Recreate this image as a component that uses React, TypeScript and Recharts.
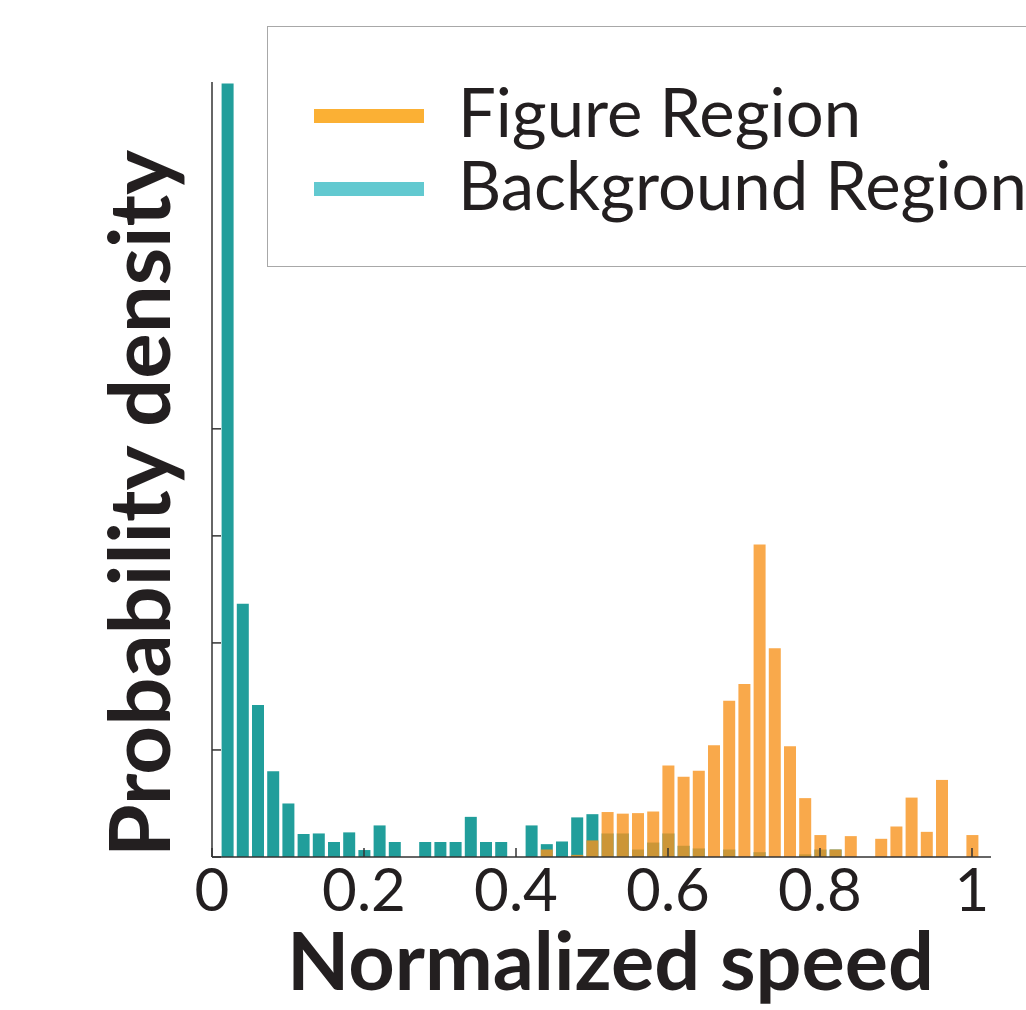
import React from "react";
import {
  ComposedChart,
  Bar,
  XAxis,
  YAxis,
  Legend,
} from "recharts";

// bin centres (width 0.02)
const binCenters = [
  0.02, 0.04, 0.06, 0.08, 0.1, 0.12, 0.14, 0.16, 0.18, 0.2,
  0.22, 0.24, 0.26, 0.28, 0.3, 0.32, 0.34, 0.36, 0.38, 0.4,
  0.42, 0.44, 0.46, 0.48, 0.5, 0.52, 0.54, 0.56, 0.58, 0.6,
  0.62, 0.64, 0.66, 0.68, 0.7, 0.72, 0.74, 0.76, 0.78, 0.8,
  0.82, 0.84, 0.86, 0.88, 0.9, 0.92, 0.94, 0.96, 0.98, 1.0,
];

const backgroundDensity = [
  14.45, 4.73, 2.84, 1.6, 1.0, 0.43, 0.44, 0.28, 0.46, 0.13,
  0.59, 0.28, 0, 0.28, 0.28, 0.28, 0.75, 0.28, 0.28, 0,
  0.59, 0.24, 0.29, 0.74, 0.8, 0.44, 0.44, 0.14, 0.27, 0.44,
  0.21, 0.16, 0, 0.14, 0, 0.09, 0, 0, 0.05, 0.14,
  0.14, 0, 0, 0, 0, 0, 0, 0, 0, 0,
];

const figureDensity = [
  0, 0, 0, 0, 0, 0, 0, 0, 0, 0,
  0, 0, 0, 0, 0, 0, 0, 0, 0, 0,
  0, 0.14, 0, 0.04, 0.31, 0.84, 0.81, 0.82, 0.85, 1.71,
  1.5, 1.61, 2.09, 2.92, 3.23, 5.84, 3.9, 2.07, 1.1, 0.41,
  0.14, 0.39, 0, 0.34, 0.57, 1.11, 0.47, 1.44, 0, 0.41,
];

const xTicks = [0, 0.2, 0.4, 0.6, 0.8, 1];
const yTicks = [0, 2, 4, 6, 8];

const legendItems = [
  { name: "Figure Region", color: "#FBB034" },
  { name: "Background Region", color: "#62C9D0" },
];

const data = binCenters.map((x, i) => ({
  x,
  background: backgroundDensity[i],
  figure: figureDensity[i],
}));

const FONT = "Lato, 'Noto Sans', sans-serif";
const INK = "#231F20";
const AXIS = "#333333";

const LegendBox = () => (
  <div
    style={{
      position: "relative",
      width: 820,
      height: 241,
      boxSizing: "border-box",
      border: "1.5px solid #a8a8a8",
      background: "#fff",
      fontFamily: FONT,
      fontWeight: 400,
      color: INK,
    }}
  >
    {legendItems.map((item, i) => (
      <div
        key={item.name}
        style={{
          position: "absolute",
          left: 46,
          top: 89 + i * 73 - 40,
          height: 80,
          display: "flex",
          alignItems: "center",
          whiteSpace: "nowrap",
        }}
      >
        <div style={{ width: 110, height: 14, background: item.color }} />
        <span
          style={{
            marginLeft: 34,
            fontSize: 67,
            lineHeight: "80px",
            position: "relative",
            top: -5,
          }}
        >
          {item.name}
        </span>
      </div>
    ))}
  </div>
);

const XTitle = (props: any) => {
  const { viewBox } = props;
  return (
    <text
      x={viewBox.x + viewBox.width / 2 + 9}
      y={viewBox.y + 133}
      textAnchor="middle"
      fontFamily={FONT}
      fontWeight={700}
      fontSize={81}
      fill={INK}
    >
      Normalized speed
    </text>
  );
};

const YTitle = (props: any) => {
  const { viewBox } = props;
  const x = viewBox.x + viewBox.width - 42;
  const y = viewBox.y + viewBox.height / 2 + 34;
  return (
    <text
      x={x}
      y={y}
      transform={`rotate(-90 ${x} ${y})`}
      textAnchor="middle"
      fontFamily={FONT}
      fontWeight={700}
      fontSize={85}
      fill={INK}
    >
      Probability density
    </text>
  );
};

const fmtX = (v: number) => (v === 0 ? "0" : v === 1 ? "1" : v.toFixed(1));

export default function App() {
  return (
    <div
      style={{
        position: "absolute",
        left: 0,
        top: 0,
        width: 1026,
        height: 1010,
        overflow: "hidden",
        background: "#fff",
      }}
    >
      <ComposedChart
        width={1100}
        height={1010}
        data={data}
        margin={{ top: 82, right: 109, bottom: 93, left: 152 }}
      >
        <XAxis
          xAxisId="main"
          dataKey="x"
          type="number"
          domain={[0, 1.025]}
          ticks={xTicks}
          tickFormatter={fmtX}
          height={60}
          tickSize={-9}
          tickMargin={20}
          stroke={AXIS}
          strokeWidth={1.5}
          tick={{ fontSize: 60, fontFamily: FONT, fontWeight: 400, fill: INK }}
          label={<XTitle />}
        />
        <XAxis
          xAxisId="over"
          dataKey="x"
          type="number"
          domain={[0, 1.025]}
          hide
        />
        <YAxis
          domain={[0, 14.48]}
          ticks={yTicks}
          width={60}
          tickSize={-9}
          tick={() => <g />}
          stroke={AXIS}
          strokeWidth={1.5}
          label={<YTitle />}
        />
        <Legend
          layout="horizontal"
          verticalAlign="middle"
          wrapperStyle={{ left: 267, top: 26, width: 820 }}
          content={() => <LegendBox />}
        />
        <Bar
          xAxisId="main"
          dataKey="background"
          name="Background Region"
          fill="#219E9B"
          barSize={12}
          isAnimationActive={false}
        />
        <Bar
          xAxisId="over"
          dataKey="figure"
          name="Figure Region"
          fill="#F7931E"
          fillOpacity={0.8}
          barSize={12}
          isAnimationActive={false}
        />
      </ComposedChart>
    </div>
  );
}
